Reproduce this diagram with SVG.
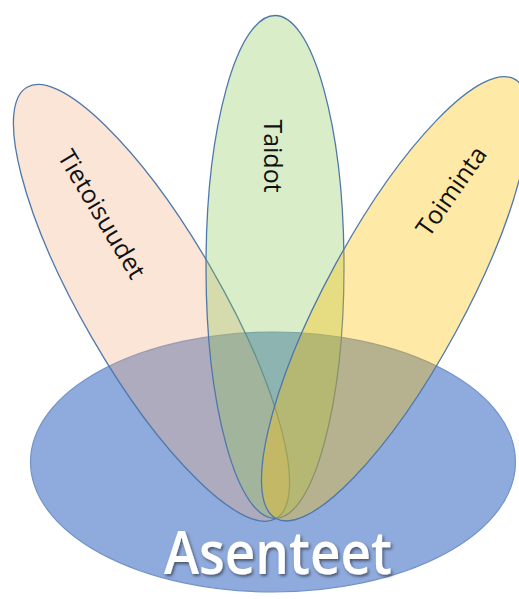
<svg xmlns="http://www.w3.org/2000/svg" width="519" height="599" viewBox="0 0 519 599">
  <defs>
    <style>
      .petal { stroke: #4f78aa; stroke-width: 1.3; }
      .lbl { font-family: "Open Sans", "Liberation Sans", Arial, sans-serif; font-size: 25px; fill: #111111; text-anchor: middle; }
      .big { font-family: "Open Sans", "Liberation Sans", Arial, sans-serif; font-size: 60px; font-weight: 600; fill: #ffffff; text-anchor: middle; }
    </style>
    <filter id="shadow" x="-10%" y="-30%" width="120%" height="160%">
      <feDropShadow dx="1.5" dy="2" stdDeviation="1.6" flood-color="#000000" flood-opacity="0.5"/>
    </filter>
  </defs>
  <rect width="519" height="599" fill="#ffffff"/>
  <g id="asenteet">
    <ellipse cx="273" cy="462" rx="242.5" ry="130" fill="#8faadc" stroke="#7393c8" stroke-width="1.2"/>
  </g>
  <g id="tietoisuudet">
    <ellipse class="petal" cx="0" cy="-249" rx="69" ry="249" transform="translate(276,518.5) rotate(-30)" fill="#f4ad80" fill-opacity="0.32"/>
  </g>
  <g id="taidot">
    <ellipse class="petal" cx="0" cy="-251.5" rx="69" ry="251.5" transform="translate(275,518.5)" fill="#8cc85a" fill-opacity="0.33"/>
  </g>
  <g id="toiminta">
    <ellipse class="petal" cx="0" cy="-250" rx="69" ry="250" transform="translate(276,518.5) rotate(28.5)" fill="#ffc000" fill-opacity="0.35"/>
  </g>
  <g id="labels">
    <text class="lbl" transform="translate(94.3,218.6) rotate(59)">Tietoisuudet</text>
    <text class="lbl" transform="translate(264,156) rotate(90)">Taidot</text>
    <text class="lbl" transform="translate(458.4,196.2) rotate(-55)">Toiminta</text>
    <text class="big" x="278" y="574" textLength="228" lengthAdjust="spacingAndGlyphs" filter="url(#shadow)">Asenteet</text>
  </g>
</svg>
